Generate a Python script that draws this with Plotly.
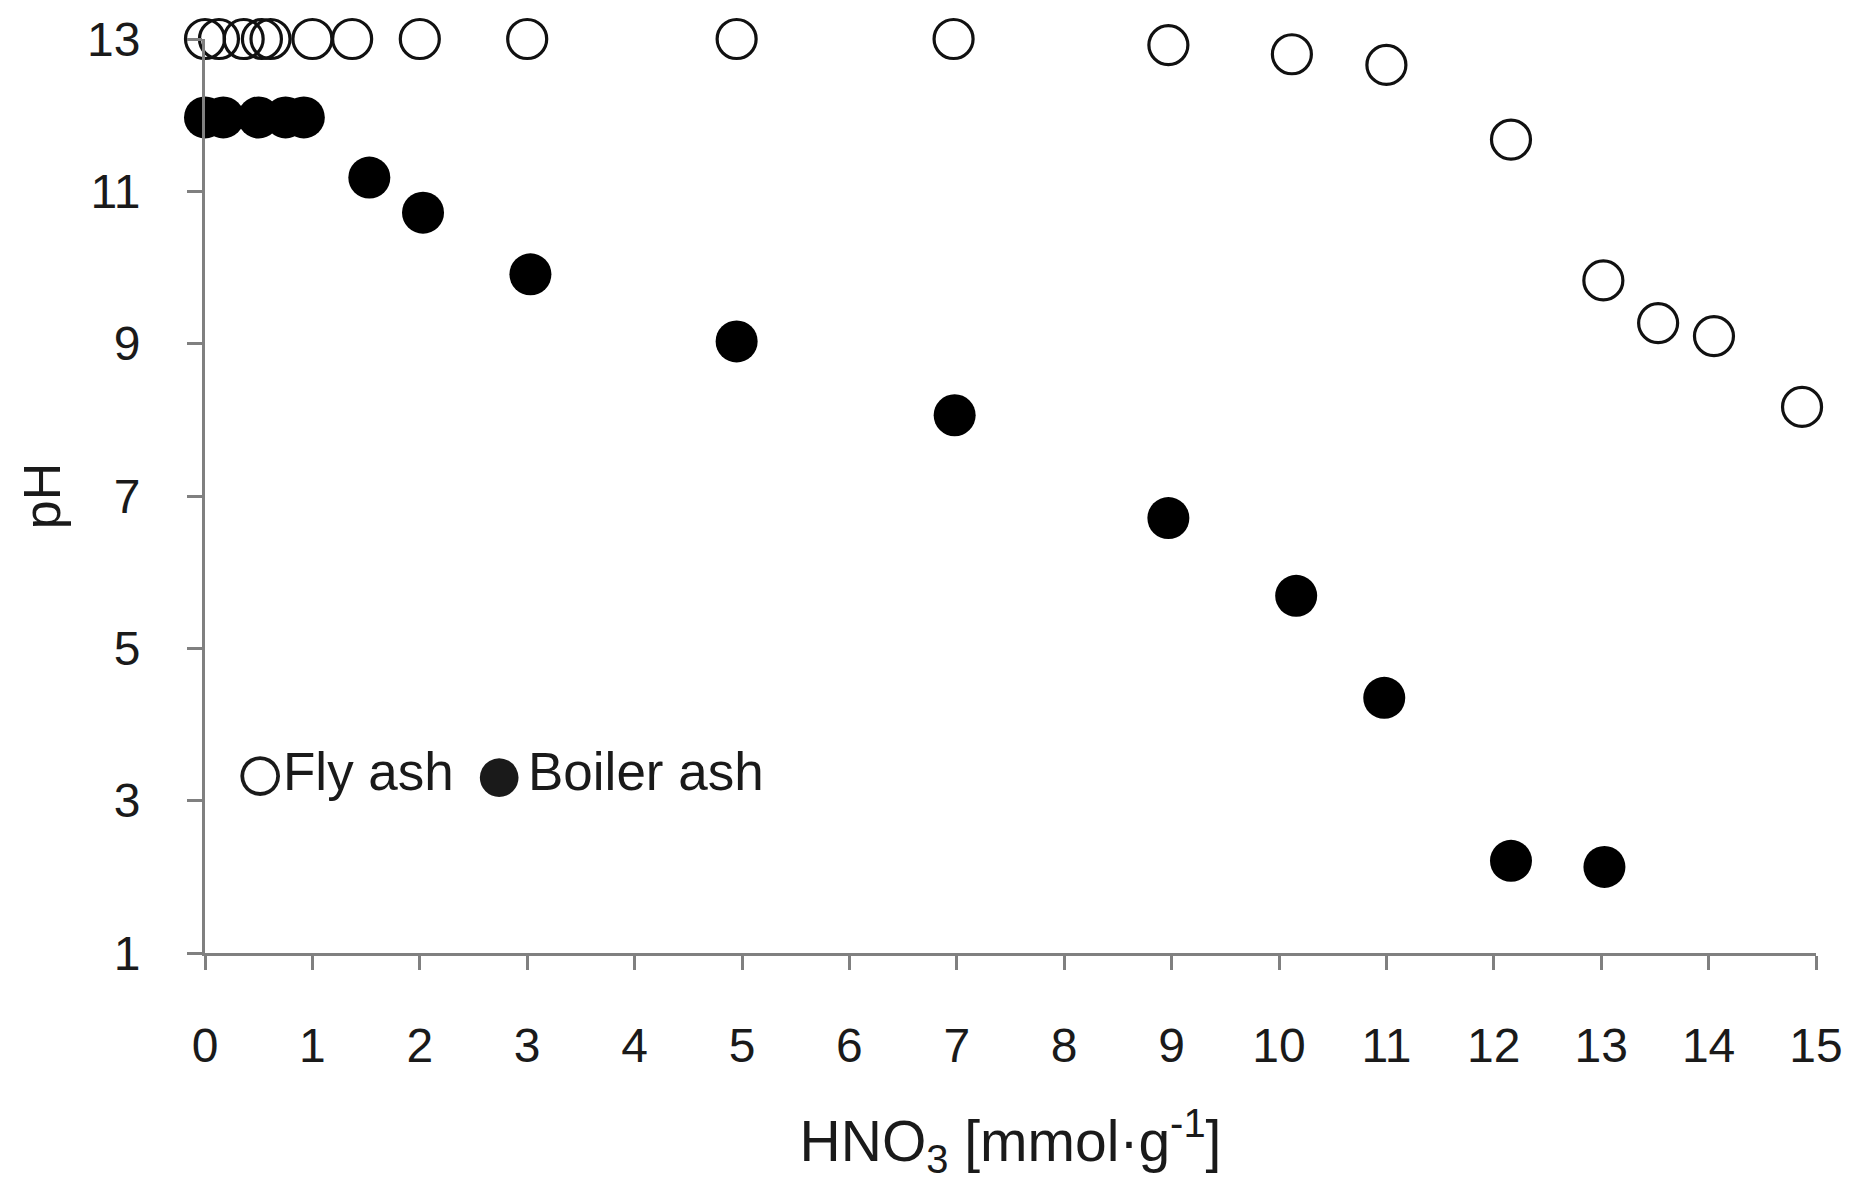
import plotly.graph_objects as go

# HNO3 addition [mmol/g] and resulting pH
fly_x = [0.0, 0.13, 0.36, 0.53, 0.61, 1.0, 1.37, 2.0, 3.0, 4.95, 6.97, 8.97, 10.12, 11.0, 12.16, 13.02, 13.53, 14.05, 14.87]
fly_ph = [13.0, 13.0, 13.0, 13.0, 13.0, 13.0, 13.0, 13.0, 13.0, 13.0, 13.0, 12.92, 12.8, 12.66, 11.68, 9.83, 9.27, 9.1, 8.17]

boiler_x = [0.0, 0.17, 0.5, 0.75, 0.92, 1.53, 2.03, 3.03, 4.95, 6.98, 8.97, 10.16, 10.98, 12.16, 13.03]
boiler_ph = [11.97, 11.97, 11.97, 11.97, 11.97, 11.18, 10.72, 9.91, 9.03, 8.06, 6.71, 5.69, 4.35, 2.21, 2.13]

x_ticks = list(range(0, 16))
y_ticks = [1, 3, 5, 7, 9, 11, 13]

legend_names = ["Fly ash", "Boiler ash"]
legend_symbols = ["○", "●"]

FONT = "Liberation Sans, Arial, sans-serif"
TXT = "#1a1a1a"
AX = "#808080"

fig = go.Figure()
fig.add_trace(go.Scatter(
    x=fly_x, y=fly_ph, mode="markers", name=legend_names[0],
    marker=dict(symbol="circle-open", size=39, color="#111111", line=dict(width=3.2)),
    cliponaxis=False, showlegend=False,
))
fig.add_trace(go.Scatter(
    x=boiler_x, y=boiler_ph, mode="markers", name=legend_names[1],
    marker=dict(symbol="circle", size=42, color="#000000", line=dict(width=0)),
    cliponaxis=False, showlegend=False,
))

# legend drawn as text (symbol + label) inside the plot, lower left
sym_x = [0.0341, 0.1825]
lab_x = [0.0472, 0.1993]
for sx, lx, sym, name in zip(sym_x, lab_x, legend_symbols, legend_names):
    fig.add_annotation(
        x=sx, y=0.1985, xref="paper", yref="paper", xanchor="center", yanchor="middle",
        showarrow=False, text=sym,
        font=dict(family=FONT, size=90, color=TXT),
    )
    fig.add_annotation(
        x=lx, y=0.1985, xref="paper", yref="paper", xanchor="left", yanchor="middle",
        showarrow=False, text=name,
        font=dict(family=FONT, size=53, color=TXT),
    )

fig.update_xaxes(
    range=[0, 15], tickvals=x_ticks, ticktext=[str(v) for v in x_ticks],
    showline=True, linecolor=AX, linewidth=3,
    ticks="outside", ticklen=14, tickwidth=3, tickcolor=AX,
    showgrid=False, zeroline=False, ticklabelstandoff=34,
    tickfont=dict(family=FONT, size=48, color=TXT),
    title=dict(text="HNO<sub>3</sub> [mmol·g<sup>-1</sup>]", standoff=51,
               font=dict(family=FONT, size=57, color=TXT)),
)
fig.update_yaxes(
    range=[1, 13], tickvals=y_ticks, ticktext=[str(v) for v in y_ticks],
    showline=True, linecolor=AX, linewidth=3,
    ticks="outside", ticklen=15, tickwidth=3, tickcolor=AX,
    showgrid=False, zeroline=False, ticklabelstandoff=37,
    tickfont=dict(family=FONT, size=48, color=TXT),
    title=dict(text="pH", standoff=10, font=dict(family=FONT, size=52, color=TXT)),
)

fig.update_layout(
    width=1853, height=1182,
    margin=dict(l=205, r=37, t=39, b=229, autoexpand=False),
    paper_bgcolor="white", plot_bgcolor="white",
    showlegend=False,
)

fig.write_html("out.html")
